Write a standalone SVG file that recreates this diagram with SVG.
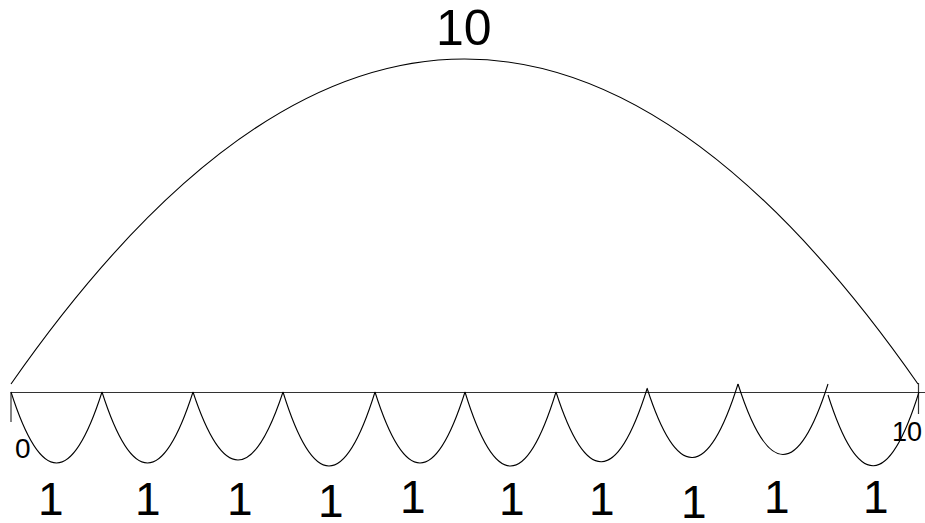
<svg xmlns="http://www.w3.org/2000/svg" width="925" height="523" viewBox="0 0 925 523">
<style>
.ln{fill:none;stroke:#000;stroke-width:1.1}
.axis{fill:none;stroke:#333;stroke-width:1.2}
.t{font-family:"Liberation Sans",Arial,sans-serif;fill:#000}
.one{font-size:46px}
</style>
<rect width="925" height="523" fill="#fff"/>
<g id="axis">
<line class="axis" x1="11" y1="392.5" x2="925" y2="392.5"/>
<line class="axis" x1="11" y1="392" x2="11" y2="422"/>
<line class="axis" x1="918.5" y1="383" x2="918.5" y2="414"/>
<text class="t" x="15" y="458" font-size="28">0</text>
<text class="t" x="892" y="441" font-size="27">10</text>
</g>
<g id="big-jump">
<path class="ln" d="M11,384 Q464.5,-266 918,384"/>
<text class="t" x="436" y="45" font-size="50">10</text>
</g>
<g id="small-jumps">
<path class="ln" d="M11,392 Q56.5,534 102,392"/>
<path class="ln" d="M102,392 Q147.5,534 193,392"/>
<path class="ln" d="M193,392 Q238,528 283,392"/>
<path class="ln" d="M283,392 Q329,540 375,392"/>
<path class="ln" d="M375,392 Q420,534 465,392"/>
<path class="ln" d="M465,392 Q510.5,540 556,392"/>
<path class="ln" d="M556,392 Q601.5,533 647,389"/>
<path class="ln" d="M647,388 Q692.5,529 738,384"/>
<path class="ln" d="M738,384 Q783,525 828,384"/>
<path class="ln" d="M828,395 Q873.5,538 919,392"/>
</g>
<g id="labels" class="t one">
<text x="38" y="515">1</text>
<text x="135" y="515">1</text>
<text x="227" y="515">1</text>
<text x="318" y="517">1</text>
<text x="400" y="513">1</text>
<text x="499" y="515">1</text>
<text x="589" y="515">1</text>
<text x="681" y="518">1</text>
<text x="764" y="513">1</text>
<text x="863" y="513">1</text>
</g>
</svg>
